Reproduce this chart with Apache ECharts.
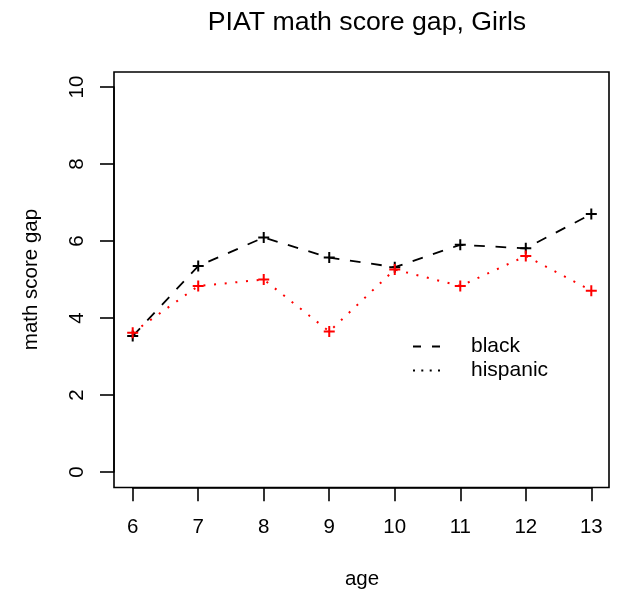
<!DOCTYPE html>
<html>
<head>
<meta charset="utf-8">
<script src="https://cdn.jsdelivr.net/npm/echarts@6/dist/echarts.min.js"></script>
<style>
  html, body { margin: 0; padding: 0; background: #fff; }
  #chart { width: 625px; height: 596px; }
</style>
</head>
<body>
<div id="chart"></div>
<script>
// PIAT math score gap for girls, by age
const ages = [6, 7, 8, 9, 10, 11, 12, 13];
const blackGap = [3.53, 5.35, 6.09, 5.57, 5.32, 5.90, 5.81, 6.70];
const hispanicGap = [3.62, 4.83, 5.00, 3.65, 5.26, 4.83, 5.61, 4.71];
const yTicks = [0, 2, 4, 6, 8, 10];

const FONT = '"Liberation Sans", Arial, Helvetica, sans-serif';
const plusSymbol = 'path://M-1,-5.5h2v4.5h4.5v2h-4.5v4.5h-2v-4.5h-4.5v-2h4.5z';

const pairs = (xs, ys) => xs.map((x, i) => [x, ys[i]]);

const chart = echarts.init(document.getElementById('chart'), null, { renderer: 'canvas' });

chart.setOption({
  animation: false,
  backgroundColor: '#fff',
  title: {
    text: 'PIAT math score gap, Girls',
    left: 362, top: 4, textAlign: 'center',
    textStyle: { fontFamily: FONT, fontSize: 26.7, fontWeight: 'normal', color: '#000' }
  },
  grid: [
    // data region: spans exactly the tick range
    { left: 132.7, top: 87, width: 458.6, height: 385, show: false,
      containLabel: false, outerBoundsMode: 'none' },
    // frame around the plotting region
    { left: 114, top: 72, width: 495, height: 415.5, show: true,
      borderColor: '#000', borderWidth: 1.6, backgroundColor: 'transparent',
      containLabel: false, outerBoundsMode: 'none' }
  ],
  xAxis: [
    {
      type: 'value', gridIndex: 0, min: 6, max: 13, interval: 1,
      offset: 15.3,
      name: 'age', nameLocation: 'middle', nameGap: 82,
      nameTextStyle: { fontFamily: FONT, fontSize: 20.5, color: '#000' },
      axisLine: { show: true, onZero: false, lineStyle: { color: '#000', width: 1.6 } },
      axisTick: { show: true, length: 14, lineStyle: { color: '#000', width: 1.6 } },
      axisLabel: { margin: 30, fontFamily: FONT, fontSize: 20.5, color: '#000' },
      splitLine: { show: false }
    },
    { type: 'value', gridIndex: 1, min: 0, max: 1, show: false }
  ],
  yAxis: [
    {
      type: 'value', gridIndex: 0, min: 0, max: 10, interval: 2,
      offset: 18.7,
      name: 'math score gap', nameLocation: 'middle', nameGap: 72,
      nameTextStyle: { fontFamily: FONT, fontSize: 20.5, color: '#000' },
      axisLine: { show: true, onZero: false, lineStyle: { color: '#000', width: 1.6 } },
      axisTick: { show: true, length: 14, lineStyle: { color: '#000', width: 1.6 } },
      axisLabel: {
        margin: 26, rotate: 90, fontFamily: FONT, fontSize: 20.5, color: '#000',
        formatter: v => (yTicks.includes(v) ? String(v) : '')
      },
      splitLine: { show: false }
    },
    { type: 'value', gridIndex: 1, min: 0, max: 1, show: false }
  ],
  legend: {
    orient: 'vertical',
    left: 413, top: 336, padding: 0,
    itemWidth: 27, itemHeight: 2, itemGap: 3,
    textStyle: { fontFamily: FONT, fontSize: 21, color: '#000', lineHeight: 20, padding: [0, 0, 0, 26] },
    data: [
      { name: 'black', icon: 'path://M0,0h8v2h-8z M19,0h8v2h-8z', itemStyle: { color: '#000' } },
      { name: 'hispanic', icon: 'path://M0,0h2v2h-2z M8.3,0h2v2h-2z M16.7,0h2v2h-2z M25,0h2v2h-2z', itemStyle: { color: '#000' } }
    ]
  },
  series: [
    {
      name: 'black', type: 'line', xAxisIndex: 0, yAxisIndex: 0,
      data: pairs(ages, blackGap),
      symbol: plusSymbol, symbolSize: 11,
      itemStyle: { color: '#000' },
      lineStyle: { color: '#000', width: 1.8, type: [10.7, 10.7], cap: 'butt' }
    },
    {
      name: 'hispanic', type: 'line', xAxisIndex: 0, yAxisIndex: 0,
      data: pairs(ages, hispanicGap),
      symbol: plusSymbol, symbolSize: 11,
      itemStyle: { color: '#ff0000' },
      lineStyle: { color: '#ff0000', width: 2, type: [2, 8.7], cap: 'butt' }
    }
  ]
});
</script>
</body>
</html>
